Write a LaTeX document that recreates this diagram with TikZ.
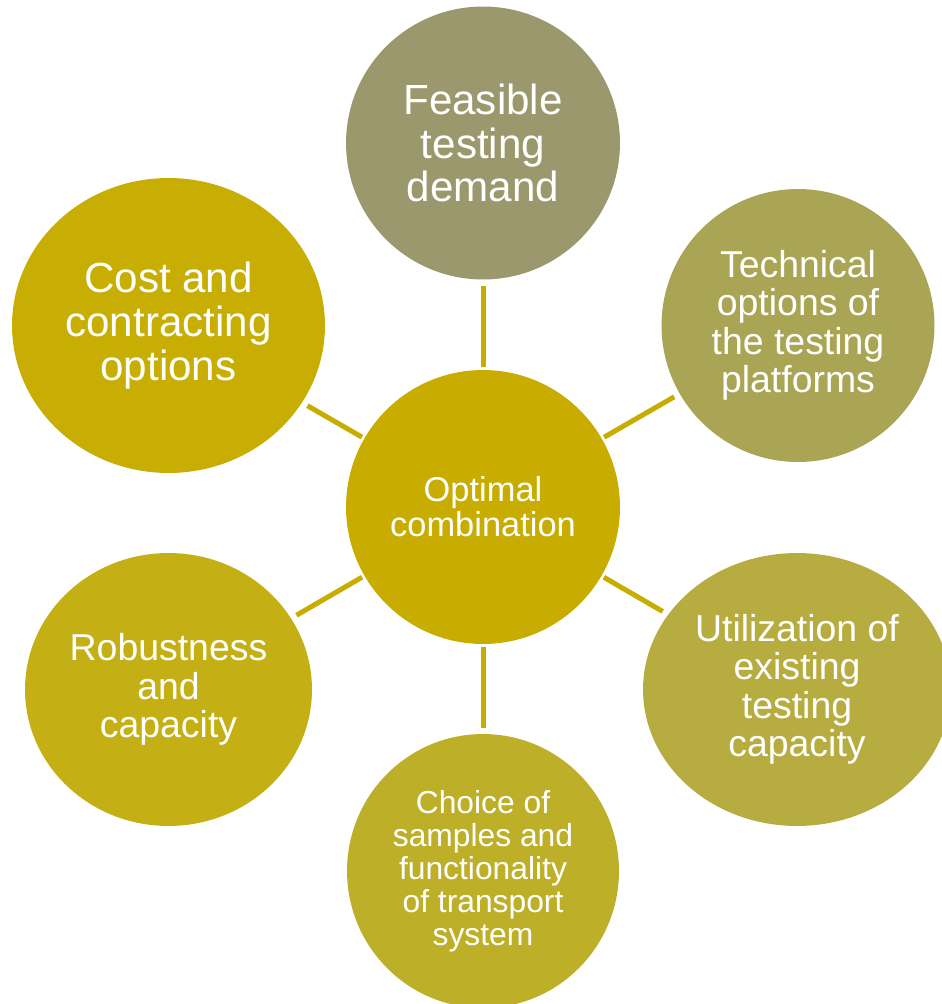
\documentclass[tikz,border=0pt]{standalone}
\usepackage{fontspec}
\setmainfont{Liberation Sans}
\usetikzlibrary{shapes.geometric}

\definecolor{hubgold}{HTML}{C8AD00}
\definecolor{linkgold}{HTML}{C8AD00}
\definecolor{demandgray}{HTML}{9A986C}
\definecolor{platformolive}{HTML}{A9A554}
\definecolor{capacityolive}{HTML}{B6AC40}
\definecolor{samplesolive}{HTML}{BEAF28}
\definecolor{robustgold}{HTML}{C4B014}
\definecolor{costgold}{HTML}{C8AE02}

\begin{document}
\begin{tikzpicture}[x=0.02cm,y=0.02cm,
  bubble/.style={ellipse,inner sep=0pt,text=white,align=center},
  bigtext/.style={font=\fontsize{24.0}{25}\selectfont},
  midtext/.style={font=\fontsize{21.3}{21.9}\selectfont},
  link/.style={draw=linkgold,line width=0.1cm,shorten <=0.05cm,shorten >=0.12cm}]
\useasboundingbox (0,0) rectangle (942,-1004);
% centre
\node[bubble,fill=hubgold,minimum width=5.48cm,minimum height=5.48cm,
  font=\fontsize{19.6}{19.9}\selectfont] (hub) at (483,-507) {Optimal\\combination};
% ring
\node[bubble,bigtext,fill=demandgray,minimum width=5.48cm,minimum height=5.46cm]
  (demand) at (483,-143) {Feasible\\testing\\demand};
\node[bubble,midtext,fill=platformolive,minimum width=5.46cm,minimum height=5.46cm]
  (platforms) at (798,-325.5) {Technical\\options of\\the testing\\platforms};
\node[bubble,midtext,fill=capacityolive,minimum width=6.16cm,minimum height=5.46cm]
  (existing) at (797,-689.5) {Utilization of\\existing\\testing\\capacity};
\node[bubble,fill=samplesolive,minimum width=5.44cm,minimum height=5.48cm,
  font=\fontsize{18.1}{18.8}\selectfont]
  (samples) at (483,-871) {Choice of\\samples and\\functionality\\of transport\\system};
\node[bubble,midtext,fill=robustgold,minimum width=5.74cm,minimum height=5.46cm]
  (robust) at (168.5,-689.5) {Robustness\\and\\capacity};
\node[bubble,bigtext,fill=costgold,minimum width=6.26cm,minimum height=5.90cm]
  (cost) at (168.5,-325.5) {Cost and\\contracting\\options};
% spokes
\foreach \outer in {demand,platforms,existing,samples,robust,cost}
  \draw[link] (hub) -- (\outer);
\end{tikzpicture}
\end{document}
